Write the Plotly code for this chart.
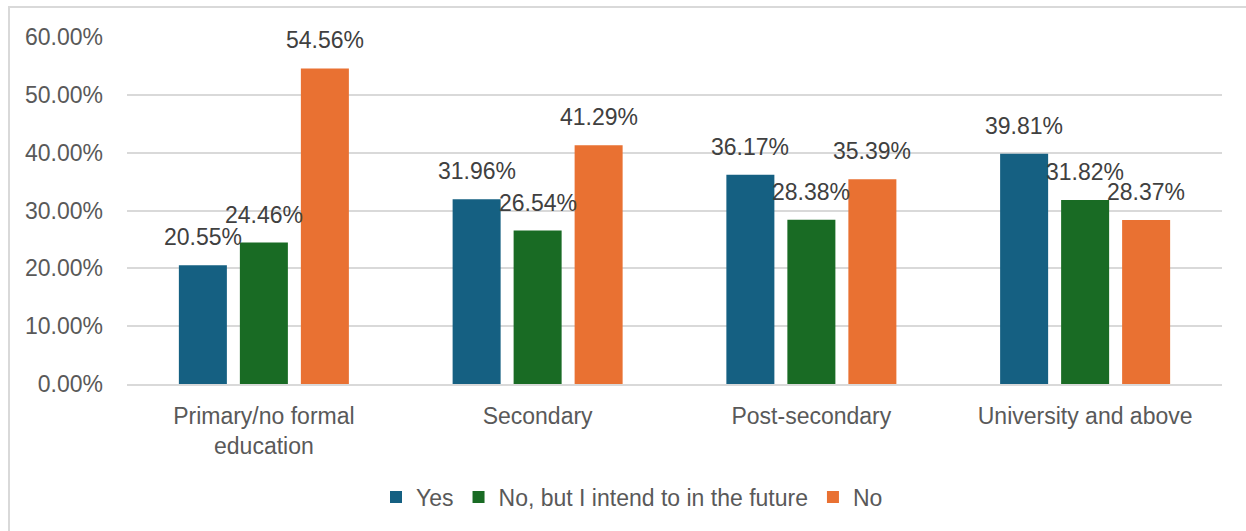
import plotly.graph_objects as go

# Share of respondents by education level
categories = ["Primary/no formal<br>education", "Secondary", "Post-secondary", "University and above"]
series_names = ["Yes", "No, but I intend to in the future", "No"]
yes_vals = [20.55, 31.96, 36.17, 39.81]
intend_vals = [24.46, 26.54, 28.38, 31.82]
no_vals = [54.56, 41.29, 35.39, 28.37]
y_ticks = [0, 10, 20, 30, 40, 50, 60]
colors = ["#156082", "#196B24", "#E97132"]

W, H = 1246, 531
L, R, T, B = 127, 24, 37, 147

num_font = "Liberation Sans, Arial, sans-serif"
cat_font = "Liberation Sans, Arial, sans-serif"

fig = go.Figure()
series = [yes_vals, intend_vals, no_vals]
for name, vals, col in zip(series_names, series, colors):
    fig.add_trace(go.Bar(
        x=categories,
        y=[v / 100 for v in vals],
        name=name,
        marker=dict(color=col, line=dict(width=0)),
        offsetgroup=name,
        hoverinfo="skip",
    ))

# value labels above each bar
n = len(series)
for i, (vals, name) in enumerate(zip(series, series_names)):
    for j, v in enumerate(vals):
        fig.add_annotation(
            x=categories[j], y=v / 100,
            xref="x", yref="y",
            text=f"{v:.2f}%",
            showarrow=False,
            xanchor="center", yanchor="bottom",
            xshift=(i - (n - 1) / 2) * 61,
            yshift=13,
            font=dict(family=num_font, size=23, color="#404040"),
        )

# outer chart frame
pw, ph = W - L - R, H - T - B
fig.add_shape(
    type="rect", xref="paper", yref="paper",
    x0=(9 - L) / pw, x1=(W + 20 - L) / pw,
    y0=-(H + 20 - (H - B)) / ph, y1=((H - B) - 7) / ph,
    line=dict(color="#D9D9D9", width=2), fillcolor="rgba(0,0,0,0)",
    layer="below",
)

fig.update_layout(
    width=W, height=H,
    margin=dict(l=L, r=R, t=T, b=B),
    paper_bgcolor="white", plot_bgcolor="white",
    barmode="group", bargap=0.3315, bargroupgap=0.213,
    showlegend=True,
    legend=dict(
        orientation="h", x=(632 - L) / pw, xanchor="center",
        y=-(497 - (H - B)) / ph, yanchor="middle",
        font=dict(family=cat_font, size=23, color="#595959"),
        itemclick=False, itemdoubleclick=False,
    ),
    xaxis=dict(
        showgrid=False, showline=True, linecolor="#D9D9D9", linewidth=2,
        ticks="", ticklabelstandoff=10,
        tickfont=dict(family=cat_font, size=23, color="#595959"),
    ),
    yaxis=dict(
        range=[0, 0.6], tickvals=[t / 100 for t in y_ticks], tickformat=".2%",
        showgrid=True, gridcolor="#D9D9D9", gridwidth=2,
        zeroline=False, showline=False, ticks="", ticklabelstandoff=23,
        tickfont=dict(family=num_font, size=23, color="#595959"),
    ),
)

fig.write_html("out.html")
